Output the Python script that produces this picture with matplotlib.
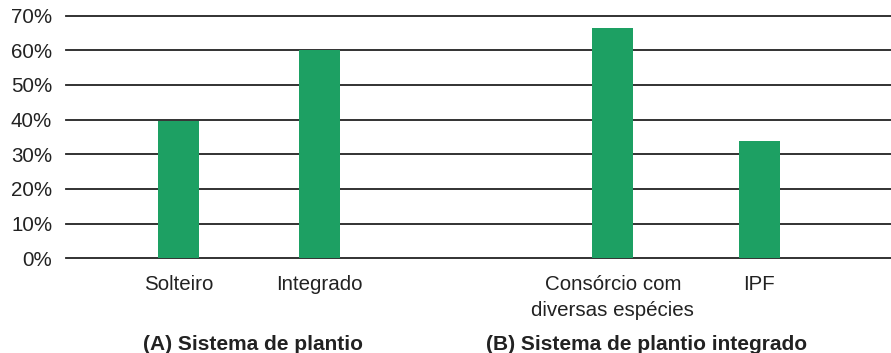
"""
Bar chart: share of planting systems (A) and integrated systems (B)
"""

import matplotlib.pyplot as plt

plt.rcParams['font.family'] = ['Liberation Sans', 'DejaVu Sans']

# Data
categories = ['Solteiro', 'Integrado', 'Consórcio com\ndiversas espécies', 'IPF']
values = [39.6, 60.0, 66.3, 33.8]
positions = [0, 1, 3.08, 4.12]
groups = ['(A) Sistema de plantio', '(B) Sistema de plantio integrado']
group_x = [0.53, 3.32]
yticks = [0, 10, 20, 30, 40, 50, 60, 70]

bar_color = '#1da063'
grid_color = '#222222'


def runner():
    fig = plt.figure(figsize=(8.91, 3.53), dpi=100)
    ax = fig.add_axes([0.0741, 0.2683, 0.9259, 0.6875])

    ax.bar(positions, values, width=0.29, color=bar_color, zorder=3)

    ax.set_ylim(0, 70)
    ax.set_xlim(-0.798, 5.053)
    ax.set_yticks(yticks)
    ax.set_yticklabels([f'{t}%' for t in yticks], fontsize=14.8, color='#222222')
    ax.set_xticks(positions)
    ax.set_xticklabels(categories, fontsize=14.8, color='#222222', linespacing=1.45)
    ax.tick_params(length=0)
    ax.tick_params(axis='y', pad=10)
    ax.tick_params(axis='x', pad=12)

    for s in ax.spines.values():
        s.set_visible(False)
    ax.grid(axis='y', color=grid_color, linewidth=1.3, zorder=1)
    ax.set_axisbelow(True)
    for line in ax.get_ygridlines():
        line.set_clip_on(False)

    # group titles
    for g, gx in zip(groups, group_x):
        ax.text(gx, -0.355, g, transform=ax.get_xaxis_transform(), ha='center',
                va='center', fontsize=15, fontweight='bold', color='#222222')

    fig.savefig('out.png', dpi=100)


runner()
